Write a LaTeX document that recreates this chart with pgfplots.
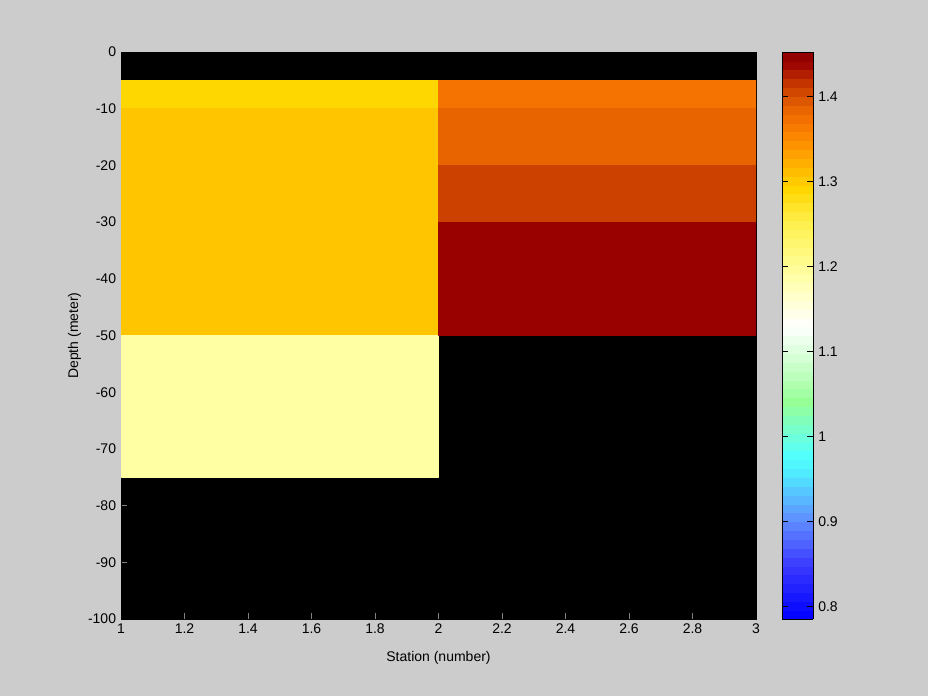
\documentclass[border=0pt]{standalone}
\usepackage{pgfplots}
\pgfplotsset{compat=1.18}
\usepackage{fontspec}
\setmainfont{Liberation Sans}
\definecolor{bgc}{RGB}{204,204,204}
\begin{document}
\fontsize{10.5}{12}\selectfont
\begin{tikzpicture}
\fill[bgc] (-90.75pt,-57.75pt) rectangle (605.25pt,464.25pt);
\begin{axis}[
  at={(0,0)}, anchor=south west,
  scale only axis, width=476.25pt, height=425.25pt,
  xmin=1, xmax=3, ymin=-100, ymax=0,
  xtick={1,1.2,...,3}, ytick={-100,-90,...,0},
  /pgf/number format/assume math mode=true,
  xticklabel style={/pgf/number format/fixed, font=\fontsize{10.5}{12}\selectfont},
  yticklabel style={font=\fontsize{10.5}{12}\selectfont},
  tick align=inside, major tick length=4.5pt,
  xtick pos=bottom, ytick pos=left,
  xlabel={Station (number)}, ylabel={Depth (meter)},
  label style={font=\fontsize{10.5}{12}\selectfont},
  xlabel style={yshift=-6pt},
  ylabel style={yshift=-2pt},
  axis background/.style={fill=black},
  axis line style={black},
  colormap={oc}{
    rgb255(785)=(0,0,255)
    rgb255(850)=(60,60,255)
    rgb255(900)=(95,140,255)
    rgb255(960)=(80,240,255)
    rgb255(975)=(80,255,255)
    rgb255(1000)=(110,255,220)
    rgb255(1040)=(150,255,150)
    rgb255(1090)=(210,255,210)
    rgb255(1130)=(255,255,255)
    rgb255(1190)=(255,255,163)
    rgb255(1250)=(255,240,80)
    rgb255(1290)=(255,215,0)
    rgb255(1305)=(255,198,0)
    rgb255(1340)=(255,150,0)
    rgb255(1370)=(245,115,0)
    rgb255(1385)=(232,100,0)
    rgb255(1410)=(204,64,0)
    rgb255(1440)=(153,0,0)
    rgb255(1452)=(140,0,0)
  },
  point meta min=0.785, point meta max=1.452,
  colorbar sampled,
  colorbar style={
    samples=65,
    at={(parent axis.north east)}, anchor=north west, xshift=11.25pt,
    width=23.25pt,
    ytick={0.8,0.9,1,1.1,1.2,1.3,1.4},
    /pgf/number format/assume math mode=true,
    yticklabel style={/pgf/number format/fixed, font=\fontsize{10.5}{12}\selectfont},
    tick align=inside, major tick length=4.5pt,
    ytick pos=both, yticklabel pos=right,
    major tick style={black, line width=0.6pt},
  },
]
\addplot[patch, patch type=rectangle, shader=flat, point meta=explicit] table[meta=c] {
x y c
1 -5 1.29
2 -5 1.29
2 -10 1.29
1 -10 1.29
1 -10 1.305
2 -10 1.305
2 -50 1.305
1 -50 1.305
1 -50 1.19
2 -50 1.19
2 -75 1.19
1 -75 1.19
2 -5 1.37
3 -5 1.37
3 -10 1.37
2 -10 1.37
2 -10 1.385
3 -10 1.385
3 -20 1.385
2 -20 1.385
2 -20 1.41
3 -20 1.41
3 -30 1.41
2 -30 1.41
2 -30 1.44
3 -30 1.44
3 -50 1.44
2 -50 1.44
};
\end{axis}
\end{tikzpicture}
\end{document}
